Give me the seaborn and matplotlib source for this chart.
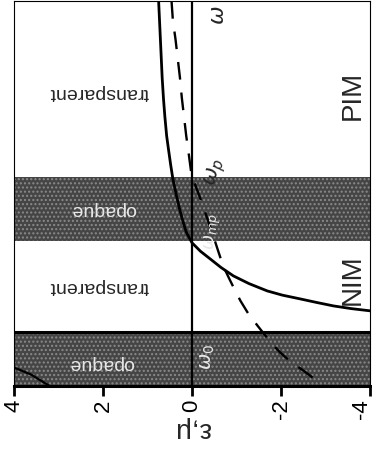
import numpy as np
import pandas as pd
import matplotlib
matplotlib.use("Agg")
import matplotlib.pyplot as plt
import matplotlib.transforms as mtransforms
import seaborn as sns

# ---- data (omega in arbitrary units, bottom = 0, top = 10)
omega_0 = 1.40
omega_mp = 3.77
omega_p = 5.43

mu_high_omega = [10.0, 9.0, 8.0, 7.45, 7.0, 6.5, 6.16, 5.75, 5.38, 5.0, 4.60, 4.30, 4.00, 3.72,
                 3.50, 3.30, 3.08, 2.86, 2.66, 2.47, 2.36, 2.26, 2.17, 2.08, 2.01, 1.95, 1.85]
mu_high_vals = [0.75, 0.71, 0.67, 0.64, 0.61, 0.57, 0.53, 0.48, 0.43, 0.36, 0.28, 0.21, 0.13, 0.0,
                -0.19, -0.41, -0.65, -0.93, -1.28, -1.69, -2.03, -2.44, -2.80, -3.18, -3.58, -4.02, -4.9]

mu_low_omega = [0.0, 0.05, 0.30, 0.49, 0.70]
mu_low_vals = [3.20, 3.27, 3.62, 4.02, 4.60]

eps_omega = [10.0, 9.5, 9.0, 8.5, 8.0, 7.5, 7.0, 6.5, 6.0, 5.56, 5.2, 4.86, 4.5, 4.16, 3.82, 3.5,
             3.12, 2.78, 2.5, 2.21, 1.87, 1.6, 1.35, 1.09, 0.85, 0.65, 0.36, 0.0]
eps_vals = [0.46, 0.43, 0.37, 0.32, 0.27, 0.23, 0.18, 0.13, 0.07, 0.02, -0.08, -0.19, -0.30, -0.40,
            -0.50, -0.59, -0.70, -0.84, -0.96, -1.09, -1.27, -1.45, -1.62, -1.80, -2.0, -2.2, -2.55, -2.96]

x_ticks = [4, 2, 0, -2, -4]
x_tick_labels = ["4", "2", "0", "-2", "-4"]

sns.set_theme(style="white")
plt.rcParams["font.family"] = ["Liberation Sans", "DejaVu Sans"]

fig = plt.figure(figsize=(3.72, 4.52), dpi=100)
ax = fig.add_axes([14 / 372, 1 - 387 / 452, 356 / 372, 385 / 452])

band_color = "#454545"
ax.axhspan(0, omega_0, facecolor=band_color, edgecolor="#8a8a8a", hatch="....", lw=0, zorder=0)
ax.axhspan(omega_mp, omega_p, facecolor=band_color, edgecolor="#8a8a8a", hatch="....", lw=0, zorder=0)
ax.axhline(omega_0, color="black", lw=2.2, zorder=2)
ax.axvline(0, color="black", lw=1.6, zorder=2)

df_mu_hi = pd.DataFrame({"val": mu_high_vals, "omega": mu_high_omega})
df_mu_lo = pd.DataFrame({"val": mu_low_vals, "omega": mu_low_omega})
df_eps = pd.DataFrame({"val": eps_vals, "omega": eps_omega})

sns.lineplot(data=df_mu_hi, x="val", y="omega", orient="y", sort=False, color="black", lw=2.0, ax=ax, zorder=3)
sns.lineplot(data=df_mu_lo, x="val", y="omega", orient="y", sort=False, color="black", lw=1.6, ax=ax, zorder=3)
sns.lineplot(data=df_eps, x="val", y="omega", orient="y", sort=False, color="black", lw=1.7, ax=ax, zorder=3)
ax.lines[-1].set_dashes((7.5, 5.5))

ax.set_xlim(4, -4)
ax.set_ylim(0, 10)
ax.set_yticks([])
ax.set_xticks(x_ticks)
ax.set_xticklabels(x_tick_labels, rotation=90, fontsize=16)
ax.tick_params(axis="x", direction="out", length=7, width=2, pad=2, bottom=True, colors="black")
last = ax.get_xticklabels()[-1]
last.set_transform(last.get_transform() + mtransforms.ScaledTranslation(-9 / 100, 0, fig.dpi_scale_trans))
ax.set_ylabel("")
ax.set_xlabel("ε,μ", fontsize=20, rotation=180)
ax.xaxis.set_label_coords(0.5, -0.11)
ax.xaxis.label.set_va("center")

for side in ["left", "top", "right"]:
    ax.spines[side].set_linewidth(0.8)
    ax.spines[side].set_color("black")
ax.spines["bottom"].set_linewidth(2.2)
ax.spines["bottom"].set_color("black")

ax.text(2.08, 7.66, "transparent", rotation=180, fontsize=14, ha="center", va="center")
ax.text(2.08, 2.60, "transparent", rotation=180, fontsize=14, ha="center", va="center")
ax.text(1.99, 4.60, "opaque", rotation=180, fontsize=14, ha="center", va="center", color="#e8e8e8")
ax.text(2.03, 0.62, "opaque", rotation=180, fontsize=14, ha="center", va="center", color="#e8e8e8")
ax.text(-3.61, 7.58, "PIM", rotation=90, fontsize=20, ha="center", va="center")
ax.text(-3.61, 2.78, "NIM", rotation=90, fontsize=20, ha="center", va="center")
ax.text(-0.59, 9.66, r"$\omega$", rotation=90, fontsize=16, ha="center", va="center")
ax.text(-0.52, 5.58, r"$\omega_p$", rotation=75, fontsize=15, ha="center", va="center")
ax.text(-0.47, 4.03, r"$\omega_{mp}$", rotation=90, fontsize=13, ha="center", va="center", color="#e8e8e8")
ax.text(-0.36, 0.78, r"$\omega_0$", rotation=90, fontsize=14, ha="center", va="center", color="#e8e8e8")

fig.savefig("out.png", dpi=100)
